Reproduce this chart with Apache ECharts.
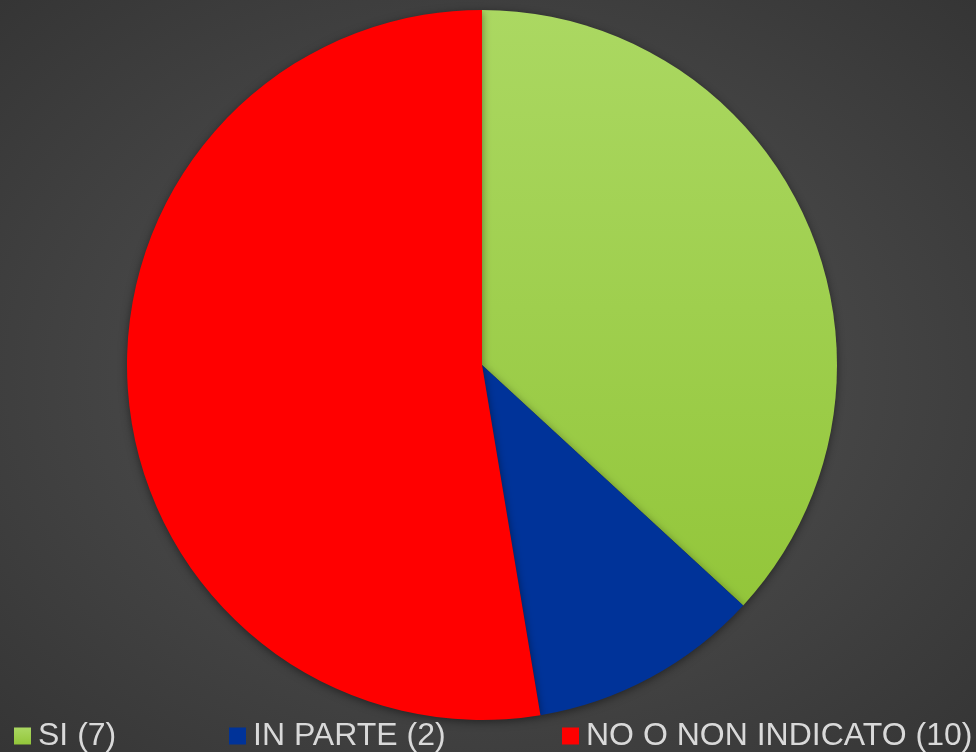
<!DOCTYPE html>
<html>
<head>
<meta charset="utf-8">
<script src="https://cdn.jsdelivr.net/npm/echarts@6/dist/echarts.min.js"></script>
<style>
  html, body { margin: 0; padding: 0; }
  #chart {
    width: 976px;
    height: 752px;
    background: radial-gradient(ellipse at 50% 50%, #595959 0%, #474747 45%, #353535 100%);
  }
</style>
</head>
<body>
<div id="chart"></div>
<script>
// categorie e valori
const categories = ['SI (7)', 'IN PARTE (2)', 'NO O NON INDICATO (10)']
const values = [7, 2, 10]

const colors = [
  new echarts.graphic.LinearGradient(0, 0, 0, 1, [
    { offset: 0, color: '#abd862' },
    { offset: 1, color: '#93c63a' }
  ]),
  '#003399',
  '#ff0000'
]
const legendIcons = [
  new echarts.graphic.LinearGradient(0, 0, 0, 1, [
    { offset: 0, color: '#abd862' },
    { offset: 1, color: '#93c63a' }
  ]),
  '#003399',
  '#ff0000'
]
const legendLeft = [14, 229, 562]

const chart = echarts.init(document.getElementById('chart'))

const option = {
  backgroundColor: 'transparent',
  animation: false,
  legend: categories.map((name, i) => ({
    data: [{ name, itemStyle: { color: legendIcons[i] } }],
    left: legendLeft[i],
    top: 720,
    padding: 0,
    itemWidth: 17,
    itemHeight: 17,
    icon: 'rect',
    textStyle: {
      color: '#d9d9d9',
      fontFamily: 'Liberation Sans, Arial, sans-serif',
      fontSize: 32,
      padding: [0, 0, 0, 2]
    }
  })),
  series: [
    {
      type: 'pie',
      center: [482, 365],
      radius: 355,
      startAngle: 90,
      clockwise: true,
      label: { show: false },
      labelLine: { show: false },
      itemStyle: {
        shadowBlur: 8,
        shadowColor: 'rgba(0,0,0,0.45)',
        shadowOffsetY: 2
      },
      data: categories.map((name, i) => ({
        name,
        value: values[i],
        itemStyle: { color: colors[i] }
      }))
    }
  ]
}

chart.setOption(option)
</script>
</body>
</html>
